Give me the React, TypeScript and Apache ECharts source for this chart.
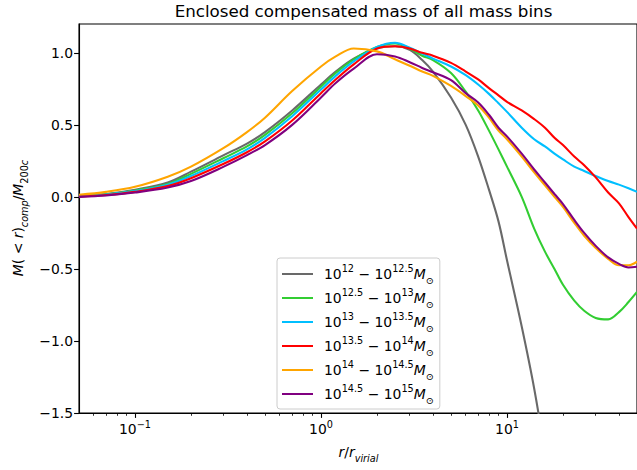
import React, { useEffect, useRef } from "react";
import * as echarts from "echarts";

// r / r_virial sample positions
const R = [0.05, 0.07, 0.1, 0.15, 0.2, 0.3, 0.4, 0.5, 0.7, 1.0, 1.2, 1.5, 2, 2.5, 3, 3.5, 4, 5, 6, 7, 8, 9, 10, 12, 14, 16, 18, 20, 23, 26, 30, 35, 40, 45, 50];

const GRAY = [0.005, 0.02, 0.05, 0.1, 0.175, 0.29, 0.37, 0.45, 0.6, 0.78, 0.87, 0.96, 1.03, 1.045, 1.02, 0.95, 0.87, 0.69, 0.5, 0.28, 0.05, -0.17, -0.44, -0.9, -1.33, -1.78, null, null, null, null, null, null, null, null, null];
const GREEN = [0.004, 0.018, 0.045, 0.09, 0.16, 0.27, 0.35, 0.43, 0.58, 0.765, 0.86, 0.955, 1.04, 1.065, 1.03, 0.98, 0.95, 0.86, 0.73, 0.6, 0.46, 0.33, 0.21, 0.0, -0.22, -0.38, -0.5, -0.61, -0.72, -0.79, -0.84, -0.85, -0.8, -0.73, -0.66];
const CYAN = [0.003, 0.016, 0.04, 0.085, 0.145, 0.25, 0.33, 0.41, 0.56, 0.745, 0.84, 0.94, 1.04, 1.07, 1.035, 0.995, 0.96, 0.905, 0.845, 0.78, 0.715, 0.65, 0.59, 0.48, 0.4, 0.35, 0.3, 0.26, 0.21, 0.18, 0.145, 0.11, 0.085, 0.06, 0.035];
const RED = [0.002, 0.013, 0.035, 0.075, 0.13, 0.23, 0.31, 0.385, 0.53, 0.72, 0.815, 0.92, 1.03, 1.045, 1.03, 1.0, 0.98, 0.93, 0.87, 0.815, 0.755, 0.705, 0.66, 0.6, 0.54, 0.48, 0.41, 0.36, 0.28, 0.22, 0.135, 0.03, -0.045, -0.14, -0.22];
const ORANGE = [0.015, 0.035, 0.07, 0.14, 0.21, 0.34, 0.45, 0.55, 0.735, 0.905, 0.975, 1.03, 1.01, 0.955, 0.91, 0.87, 0.84, 0.77, 0.7, 0.635, 0.55, 0.46, 0.4, 0.28, 0.17, 0.08, 0.0, -0.07, -0.18, -0.27, -0.355, -0.43, -0.475, -0.475, -0.45];
const PURPLE = [0.0, 0.01, 0.03, 0.065, 0.11, 0.21, 0.29, 0.36, 0.5, 0.69, 0.79, 0.89, 0.99, 0.975, 0.935, 0.895, 0.865, 0.81, 0.72, 0.655, 0.57, 0.48, 0.42, 0.3, 0.19, 0.1, 0.02, -0.05, -0.16, -0.25, -0.34, -0.42, -0.465, -0.49, -0.485];

const SERIES_VALUES = [GRAY, GREEN, CYAN, RED, ORANGE, PURPLE];
const LOW_EXP = ["12", "12.5", "13", "13.5", "14", "14.5"];
const HIGH_EXP = ["12.5", "13", "13.5", "14", "14.5", "15"];
const COLORS = ["#696969", "#32cd32", "#00bfff", "#ff0000", "#ffa500", "#800080"];

const X_MAJOR = [0.1, 1, 10];
const X_MINOR = [0.06, 0.07, 0.08, 0.09, 0.2, 0.3, 0.4, 0.5, 0.6, 0.7, 0.8, 0.9, 2, 3, 4, 5, 6, 7, 8, 9, 20, 30, 40];
const Y_TICKS = [-1.5, -1.0, -0.5, 0.0, 0.5, 1.0];

const FONT = "DejaVu Sans";
const FS = 13.9;
const FS_SMALL = 9.7;

const NAMES = LOW_EXP.map((lo, i) => `10^${lo} − 10^${HIGH_EXP[i]} M⊙`);

const minus = (s: string) => s.replace("-", "−");

export default function App() {
  const ref = useRef<HTMLDivElement>(null);
  useEffect(() => {
    if (!ref.current) return;
    const chart = echarts.init(ref.current, null, { renderer: "svg" });
    const txt = { fontFamily: FONT, color: "#000" };
    const legendRich = {
      n: { ...txt, fontSize: FS, lineHeight: 22, verticalAlign: "middle" },
      s: { ...txt, fontSize: FS_SMALL, lineHeight: 10, verticalAlign: "top" },
      m: { ...txt, fontSize: FS, fontStyle: "italic", lineHeight: 22, verticalAlign: "middle" },
      b: { ...txt, fontSize: FS_SMALL, lineHeight: 12, verticalAlign: "bottom" },
    };
    const option: any = {
      animation: false,
      backgroundColor: "#ffffff",
      title: {
        text: "Enclosed compensated mass of all mass bins",
        left: 358.5,
        textAlign: "center",
        top: -3,
        textStyle: { fontFamily: FONT, fontSize: 16.7, fontWeight: "normal", color: "#000" },
      },
      grid: {
        left: 79,
        top: 24,
        width: 559.4,
        height: 389,
        show: true,
        borderColor: "#000",
        borderWidth: 1.1,
        backgroundColor: "transparent",
      },
      legend: {
        orient: "vertical",
        left: 277,
        top: 258,
        padding: [5, 6, 4, 5],
        itemGap: 2,
        itemWidth: 31,
        itemHeight: 2,
        icon: "rect",
        selectedMode: false,
        backgroundColor: "rgba(255,255,255,0.8)",
        borderColor: "#cccccc",
        borderWidth: 1,
        borderRadius: 3,
        data: NAMES,
        formatter: (name: string) => {
          const i = NAMES.indexOf(name);
          return `{n|10}{s|${LOW_EXP[i]}}{n| − 10}{s|${HIGH_EXP[i]}}{m|M}{b|⊙}`;
        },
        textStyle: { ...txt, fontSize: FS, padding: [0, 0, 0, 6], rich: legendRich },
      },
      xAxis: [
        {
          type: "log",
          logBase: 10,
          min: 0.05,
          max: 50,
          position: "bottom",
          axisLine: { show: true, onZero: false, lineStyle: { color: "#000", width: 1.1 } },
          axisTick: { show: true, length: 4.9, lineStyle: { color: "#000", width: 1.1 }, customValues: X_MAJOR },
          axisLabel: {
            show: true,
            margin: 6,
            customValues: X_MAJOR,
            formatter: (v: number) => `{b|10}{s|${minus(String(Math.round(Math.log10(v))))}}`,
            rich: {
              b: { ...txt, fontSize: FS, lineHeight: 20, verticalAlign: "middle" },
              s: { ...txt, fontSize: FS_SMALL, lineHeight: 10, verticalAlign: "top" },
            },
          },
          splitLine: { show: false },
        },
        {
          type: "log",
          logBase: 10,
          min: 0.05,
          max: 50,
          position: "bottom",
          axisLine: { show: false, onZero: false },
          axisTick: { show: true, length: 2.8, lineStyle: { color: "#000", width: 0.8 }, customValues: X_MINOR },
          axisLabel: { show: false },
          splitLine: { show: false },
        },
      ],
      yAxis: {
        type: "value",
        min: -1.5,
        max: 1.2,
        interval: 0.5,
        axisLine: { show: true, onZero: false, lineStyle: { color: "#000", width: 1.1 } },
        axisTick: { show: true, length: 4.9, lineStyle: { color: "#000", width: 1.1 }, customValues: Y_TICKS },
        axisLabel: {
          show: true,
          margin: 6,
          customValues: Y_TICKS,
          formatter: (v: number) => minus(v.toFixed(1)),
          fontFamily: FONT,
          fontSize: FS,
          color: "#000",
        },
        splitLine: { show: false },
      },
      graphic: [
        {
          type: "text",
          x: 358.5,
          y: 452,
          style: {
            text: "{i|r}{n|/}{i|r}{sb|virial}",
            align: "center",
            verticalAlign: "middle",
            rich: {
              i: { ...txt, fontSize: FS, fontStyle: "italic", lineHeight: 22, verticalAlign: "middle" },
              n: { ...txt, fontSize: FS, lineHeight: 22, verticalAlign: "middle" },
              sb: { ...txt, fontSize: FS_SMALL, fontStyle: "italic", lineHeight: 12, verticalAlign: "bottom" },
            },
          },
        },
        {
          type: "text",
          x: 18,
          y: 218,
          rotation: Math.PI / 2,
          style: {
            text: "{i|M}{n|( < }{i|r}{n|)}{sb|comp}{n|/}{i|M}{sn|200}{sb|c}",
            align: "center",
            verticalAlign: "middle",
            rich: {
              i: { ...txt, fontSize: FS, fontStyle: "italic", lineHeight: 22, verticalAlign: "middle" },
              n: { ...txt, fontSize: FS, lineHeight: 22, verticalAlign: "middle" },
              sb: { ...txt, fontSize: FS_SMALL, fontStyle: "italic", lineHeight: 12, verticalAlign: "bottom" },
              sn: { ...txt, fontSize: FS_SMALL, lineHeight: 12, verticalAlign: "bottom" },
            },
          },
        },
      ],
      series: SERIES_VALUES.map((vals, k) => ({
        name: NAMES[k],
        type: "line",
        xAxisIndex: 0,
        yAxisIndex: 0,
        symbol: "none",
        smooth: 0.35,
        clip: true,
        color: COLORS[k],
        lineStyle: { color: COLORS[k], width: 2.08 },
        data: R.map((r, i) => [r, vals[i]]).filter((d) => d[1] !== null),
      })),
    };
    chart.setOption(option);
    return () => chart.dispose();
  }, []);
  return <div ref={ref} style={{ position: "absolute", left: 0, top: 0, width: 637, height: 470 }} />;
}
